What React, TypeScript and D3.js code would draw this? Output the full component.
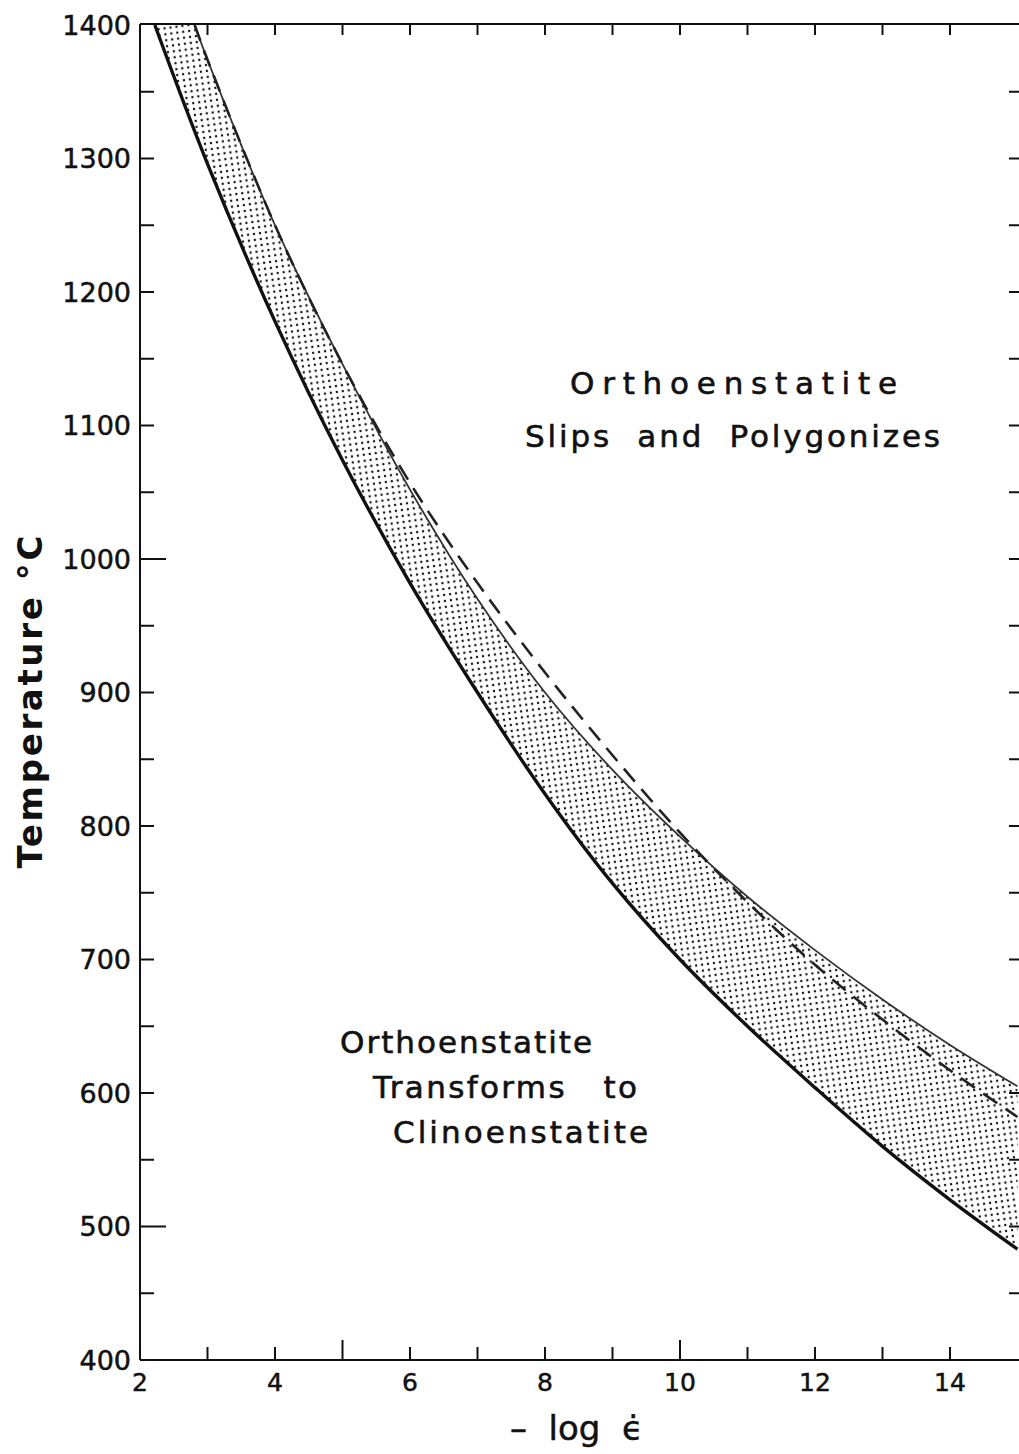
import React from 'react';
import * as d3 from 'd3';

// lower boundary of stippled band (solid, heavy)
const lowerX = [2.22, 3, 4, 5, 6, 7, 8, 9, 10, 11, 12, 13, 14, 15];
const lowerT = [1400, 1296, 1178, 1074, 982, 900, 824, 757, 700, 650, 604, 560, 520, 483];
// upper boundary of stippled band (solid, light)
const upperX = [2.81, 3, 4, 5, 6, 7, 8, 9, 10, 11, 12, 13, 14, 15];
const upperT = [1400, 1374, 1250, 1146, 1052, 970, 900, 842, 792, 747, 707, 670, 636, 605];
// dashed boundary
const dashX = [2.81, 3, 4, 5, 6, 7, 8, 9, 10, 11, 12, 13, 14, 15];
const dashT = [1400, 1374, 1250, 1146, 1057, 982, 915, 853, 795, 743, 696, 655, 617, 582];

const xLabels = [2, 4, 6, 8, 10, 12, 14];
const yLabels = [400, 500, 600, 700, 800, 900, 1000, 1100, 1200, 1300, 1400];
const xMinor = [3, 4, 5, 6, 7, 8, 9, 10, 11, 12, 13, 14];
const yMinor = [450, 500, 550, 600, 650, 700, 750, 800, 850, 900, 950, 1000, 1050, 1100, 1150, 1200, 1250, 1300, 1350];

const W = 1019;
const H = 1454;
const FONT = 'DejaVu Sans';

export default function App() {
  const x = d3.scaleLinear().domain([2, 15]).range([140, 1017.5]);
  const y = d3.scaleLinear().domain([400, 1400]).range([1360, 25]);
  const line = d3
    .line<[number, number]>()
    .x((d) => x(d[0]))
    .y((d) => y(d[1]))
    .curve(d3.curveCatmullRom.alpha(0.5));

  const lowerPts: [number, number][] = lowerX.map((v, i) => [v, lowerT[i]]);
  const upperPts: [number, number][] = upperX.map((v, i) => [v, upperT[i]]);
  const dashPts: [number, number][] = dashX.map((v, i) => [v, dashT[i]]);

  const lowerD = line(lowerPts) || '';
  const upperD = line(upperPts) || '';
  const dashD = line(dashPts) || '';
  const upperRev = line(upperPts.slice().reverse()) || '';
  const fillD = lowerD + upperRev.replace(/^M/, 'L') + 'Z';

  const x0 = 140;
  const yTop = 24;
  const yBot = 1360;

  return (
    <svg
      width={W}
      height={H}
      viewBox={`0 0 ${W} ${H}`}
      style={{ position: 'absolute', left: 0, top: 0, background: '#fff' }}
    >
      <defs>
        <pattern id="stipple" width={6} height={6} patternUnits="userSpaceOnUse" patternTransform="rotate(-8)">
          <circle cx={3} cy={3} r={1.2} fill="#111" />
        </pattern>
        <clipPath id="plot">
          <rect x={x0} y={yTop} width={W - x0} height={yBot - yTop} />
        </clipPath>
      </defs>
      <rect x={0} y={0} width={W} height={H} fill="#fff" />

      <g clipPath="url(#plot)">
        <path d={fillD} fill="url(#stipple)" stroke="none" />
        <path d={upperD} fill="none" stroke="#333" strokeWidth={1.8} />
        <path d={dashD} fill="none" stroke="#222" strokeWidth={2.6} strokeDasharray="17 10" />
        <path d={lowerD} fill="none" stroke="#111" strokeWidth={3.4} />
      </g>

      {/* frame */}
      <g stroke="#111" fill="none">
        <line x1={x0} y1={yTop} x2={x0} y2={yBot} strokeWidth={2} />
        <line x1={x0} y1={yBot} x2={W} y2={yBot} strokeWidth={2.2} />
        <line x1={x0} y1={yTop} x2={W} y2={yTop} strokeWidth={2.2} />
      </g>

      {/* ticks */}
      <g stroke="#111" strokeWidth={2}>
        {xMinor.map((v) => (
          <line key={'bt' + v} x1={x(v)} x2={x(v)} y1={yBot} y2={yBot - (v % 5 === 0 ? 20 : 13)} />
        ))}
        {xMinor.map((v) => (
          <line key={'tt' + v} x1={x(v)} x2={x(v)} y1={yTop} y2={yTop + 11} />
        ))}
        {yMinor.map((v) => (
          <line key={'lt' + v} x1={x0} x2={x0 + (v % 500 === 0 ? 26 : 14)} y1={y(v)} y2={y(v)} />
        ))}
        {yMinor.map((v) => (
          <line key={'rt' + v} x1={W} x2={W - 10} y1={y(v)} y2={y(v)} />
        ))}
      </g>

      {/* tick labels */}
      <g fontFamily={FONT} fontSize={27} fill="#111" stroke="#111" strokeWidth={0.5}>
        {yLabels.map((v) => (
          <text key={'yl' + v} x={131} y={y(v)} dy="0.36em" textAnchor="end">
            {v}
          </text>
        ))}
        {xLabels.map((v) => (
          <text key={'xl' + v} x={x(v)} y={1391} textAnchor="middle" fontSize={25}>
            {v}
          </text>
        ))}
      </g>

      {/* axis titles */}
      <text
        x={510}
        y={1440}
        fontFamily={FONT}
        fontSize={34}
        fill="#111"
        stroke="#111"
        strokeWidth={0.5}
        style={{ whiteSpace: 'pre' }}
      >
        {'–  log  ϵ\u0307'}
      </text>
      <text
        transform="translate(42,702) rotate(-90)"
        textAnchor="middle"
        fontFamily={FONT}
        fontSize={34}
        fontWeight="bold"
        fill="#111"
        textLength={333}
        lengthAdjust="spacing"
      >
        {'Temperature °C'}
      </text>

      {/* annotations */}
      <g fontFamily={FONT} fontSize={31} fill="#111" stroke="#111" strokeWidth={0.6}>
        <text x={570} y={394} textLength={327} lengthAdjust="spacing">Orthoenstatite</text>
        <text x={525} y={447} textLength={415} lengthAdjust="spacing" style={{ whiteSpace: 'pre' }}>
          {'Slips  and  Polygonizes'}
        </text>
        <text x={340} y={1053} textLength={252} lengthAdjust="spacing">Orthoenstatite</text>
        <text x={373} y={1098} textLength={264} lengthAdjust="spacing" style={{ whiteSpace: 'pre' }}>
          {'Transforms   to'}
        </text>
        <text x={393} y={1143} textLength={255} lengthAdjust="spacing">Clinoenstatite</text>
      </g>
    </svg>
  );
}
